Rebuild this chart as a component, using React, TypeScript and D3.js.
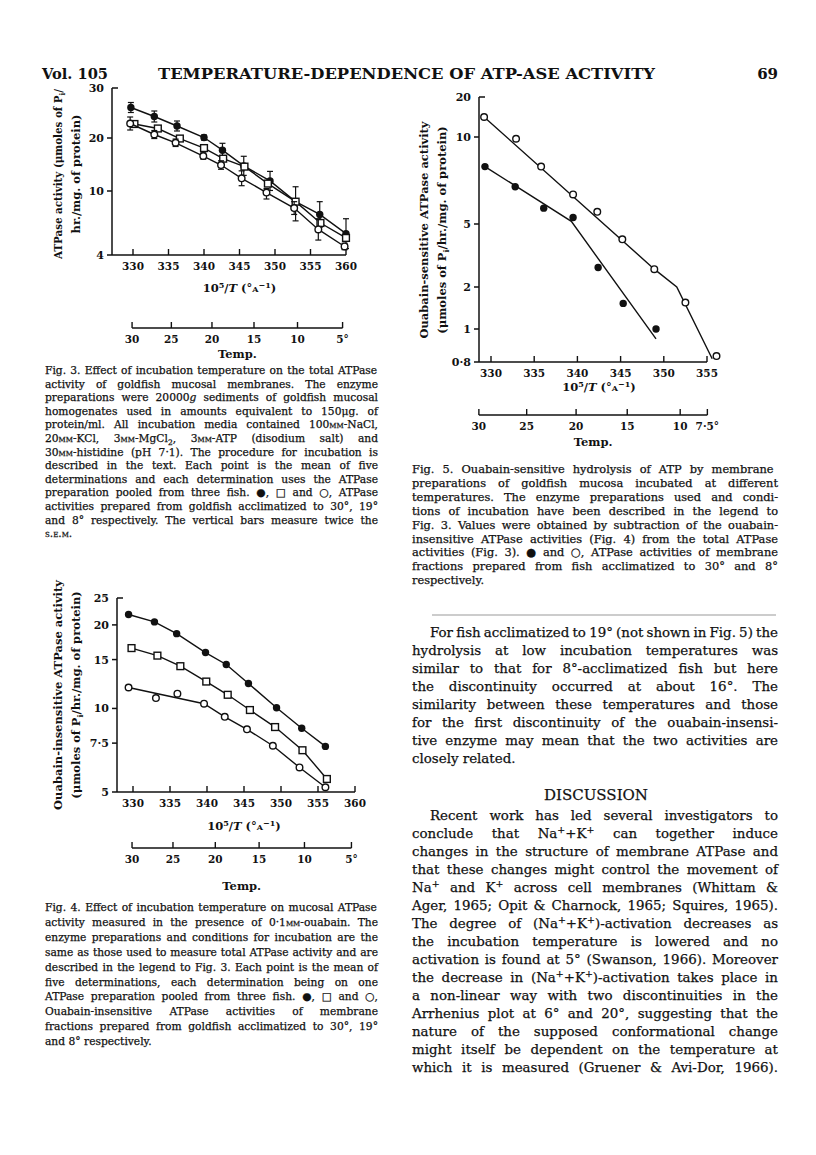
import React, { useLayoutEffect, useRef, useState } from "react";
import * as d3 from "d3";

// ---- Fig. 3: total ATPase activity vs 10^5/T ----
const fig3FilledX = [329.7, 333.0, 336.2, 340.0, 342.6, 345.6, 349.3, 352.9, 356.3, 360.0];
const fig3FilledY = [26.1, 24.3, 22.4, 20.1, 17.7, 14.75, 11.9, 9.0, 7.8, 6.0];
const fig3FilledErr = [1.0, 1.1, 1.0, 0.5, 1.3, 1.8, 1.8, 1.8, 1.2, 1.4];
const fig3SquareX = [330.2, 333.5, 336.6, 340.0, 342.7, 345.7, 349.0, 352.9, 356.4, 360.0];
const fig3SquareY = [22.8, 21.9, 19.9, 18.1, 16.1, 14.6, 11.4, 9.0, 7.0, 5.6];
const fig3OpenX = [329.6, 333.0, 336.0, 339.9, 342.4, 345.3, 348.8, 352.7, 356.1, 359.8];
const fig3OpenY = [22.9, 20.7, 19.1, 16.6, 14.9, 12.4, 9.85, 8.4, 6.4, 4.8];
const fig3OpenErr = [1.3, 0.8, 0.7, 0.6, 0.8, 1.4, 0.6, 0.6, 1.0, 0.3];
const fig3YTicks = [30, 20, 10, 4];

// ---- Fig. 4: ouabain-insensitive ATPase ----
const fig4FilledX = [329.4, 332.9, 335.9, 339.8, 342.6, 345.6, 349.4, 352.8, 356.0];
const fig4FilledY = [21.8, 20.5, 18.6, 15.9, 14.4, 12.3, 10.06, 8.48, 7.3];
const fig4SquareX = [329.8, 333.3, 336.4, 339.9, 342.8, 345.8, 349.2, 352.9, 356.2];
const fig4SquareY = [16.5, 15.5, 14.2, 12.5, 11.2, 9.87, 8.57, 7.07, 5.57];
const fig4OpenX = [329.4, 333.1, 336.0, 339.6, 342.4, 345.4, 348.9, 352.5, 356.0];
const fig4OpenY = [11.9, 10.9, 11.3, 10.4, 9.33, 8.41, 7.34, 6.13, 5.2];
const fig4OpenFitX = [329.4, 339.6, 342.4, 345.4, 348.9, 352.5, 356.0];
const fig4OpenFitY = [11.9, 10.4, 9.33, 8.41, 7.34, 6.13, 5.2];
const fig4YTicks = [25, 20, 15, 10, 7.5, 5];
const fig4YLabels = ["25", "20", "15", "10", "7·5", "5"];

// ---- Fig. 5: ouabain-sensitive ATPase ----
const fig5FilledX = [329.3, 332.8, 336.1, 339.5, 342.4, 345.3, 349.1];
const fig5FilledY = [8.3, 7.14, 5.91, 5.37, 2.93, 1.61, 1.0];
const fig5FilledFitX = [329.3, 339.3, 349.1];
const fig5FilledFitY = [8.3, 5.15, 0.94];
const fig5OpenX = [329.2, 332.9, 335.8, 339.5, 342.3, 345.2, 348.9, 352.5, 356.1];
const fig5OpenY = [15.0, 9.9, 8.3, 6.7, 5.7, 4.27, 2.85, 1.63, 0.836];
const fig5OpenFitX = [329.2, 348.9, 351.5, 355.6];
const fig5OpenFitY = [15.0, 2.85, 2.0, 0.82];
const fig5YTicks = [20, 10, 5, 2, 1, 0.8];
const fig5YLabels = ["20", "10", "5", "2", "1", "0·8"];

const xTicks3 = [330, 335, 340, 345, 350, 355, 360];
const xTicks5 = [330, 335, 340, 345, 350, 355];
const temps3 = [30, 25, 20, 15, 10, 5];
const tempLabels3 = ["30", "25", "20", "15", "10", "5°"];
const temps5 = [30, 25, 20, 15, 10, 7.5];
const tempLabels5 = ["30", "25", "20", "15", "10", "7·5°"];

const fig3Caption = [
  "Fig. 3.  Effect of incubation temperature on the total ATPase",
  "activity of goldfish mucosal membranes. The enzyme",
  "preparations were 20000*{g} sediments of goldfish mucosal",
  "homogenates used in amounts equivalent to 150μg. of",
  "protein/ml. All incubation media contained 100~{mm}-NaCl,",
  "20~{mm}-KCl, 3~{mm}-MgCl_{2}, 3~{mm}-ATP (disodium salt) and",
  "30~{mm}-histidine (pH 7·1). The procedure for incubation is",
  "described in the text. Each point is the mean of five",
  "determinations and each determination uses the ATPase",
  "preparation pooled from three fish. ●, □ and ○, ATPase",
  "activities prepared from goldfish acclimatized to 30°, 19°",
  "and 8° respectively. The vertical bars measure twice the",
  "~{s.e.m.}",
];
const fig4Caption = [
  "Fig. 4.  Effect of incubation temperature on mucosal ATPase",
  "activity measured in the presence of 0·1~{mm}-ouabain. The",
  "enzyme preparations and conditions for incubation are the",
  "same as those used to measure total ATPase activity and are",
  "described in the legend to Fig. 3. Each point is the mean of",
  "five determinations, each determination being on one",
  "ATPase preparation pooled from three fish. ●, □ and ○,",
  "Ouabain-insensitive ATPase activities of membrane",
  "fractions prepared from goldfish acclimatized to 30°, 19°",
  "and 8° respectively.",
];
const fig5Caption = [
  "Fig. 5.  Ouabain-sensitive hydrolysis of ATP by membrane",
  "preparations of goldfish mucosa incubated at different",
  "temperatures. The enzyme preparations used and condi-",
  "tions of incubation have been described in the legend to",
  "Fig. 3. Values were obtained by subtraction of the ouabain-",
  "insensitive ATPase activities (Fig. 4) from the total ATPase",
  "activities (Fig. 3). ● and ○, ATPase activities of membrane",
  "fractions prepared from fish acclimatized to 30° and 8°",
  "respectively.",
];
const bodyPara1 = [
  "For fish acclimatized to 19° (not shown in Fig. 5) the",
  "hydrolysis at low incubation temperatures was",
  "similar to that for 8°-acclimatized fish but here",
  "the discontinuity occurred at about 16°. The",
  "similarity between these temperatures and those",
  "for the first discontinuity of the ouabain-insensi-",
  "tive enzyme may mean that the two activities are",
  "closely related.",
];
const bodyPara2 = [
  "Recent work has led several investigators to",
  "conclude that Na^{+}+K^{+} can together induce",
  "changes in the structure of membrane ATPase and",
  "that these changes might control the movement of",
  "Na^{+} and K^{+} across cell membranes (Whittam &",
  "Ager, 1965; Opit & Charnock, 1965; Squires, 1965).",
  "The degree of (Na^{+}+K^{+})-activation decreases as",
  "the incubation temperature is lowered and no",
  "activation is found at 5° (Swanson, 1966). Moreover",
  "the decrease in (Na^{+}+K^{+})-activation takes place in",
  "a non-linear way with two discontinuities in the",
  "Arrhenius plot at 6° and 20°, suggesting that the",
  "nature of the supposed conformational change",
  "might itself be dependent on the temperature at",
  "which it is measured (Gruener & Avi-Dor, 1966).",
];

const serif = "'DejaVu Serif', 'Liberation Serif', serif";
const ink = "#111";

// small markup: _{sub} ^{sup} ~{smallcaps} *{italic}
function rich(src: string, size: number) {
  const out: any[] = [];
  const re = /([_^~*])\{([^}]*)\}/g;
  let last = 0;
  let shift = 0;
  let k = 0;
  let m: RegExpExecArray | null;
  while ((m = re.exec(src))) {
    if (m.index > last) {
      out.push(<tspan key={k++} dy={shift ? -shift : undefined}>{src.slice(last, m.index)}</tspan>);
      shift = 0;
    }
    const kind = m[1];
    if (kind === "_" || kind === "^") {
      const s = kind === "_" ? size * 0.28 : -size * 0.38;
      out.push(<tspan key={k++} dy={s - shift} fontSize={size * 0.7}>{m[2]}</tspan>);
      shift = s;
    } else if (kind === "~") {
      out.push(<tspan key={k++} dy={shift ? -shift : undefined} style={{ fontVariant: "small-caps" }}>{m[2]}</tspan>);
      shift = 0;
    } else {
      out.push(<tspan key={k++} dy={shift ? -shift : undefined} fontStyle="italic">{m[2]}</tspan>);
      shift = 0;
    }
    last = re.lastIndex;
  }
  if (last < src.length) out.push(<tspan key={k++} dy={shift ? -shift : undefined}>{src.slice(last)}</tspan>);
  return out;
}

// one line of justified text: spreads the words (word-spacing) to fill the width
function JustLine({ x, y, width, justify, size, src }: any) {
  const ref = useRef<SVGTextElement>(null);
  const [ws, setWs] = useState(0);
  const [fit, setFit] = useState(false);
  useLayoutEffect(() => {
    const el = ref.current;
    if (!justify || !el) return;
    el.style.wordSpacing = "0px";
    const len = el.getComputedTextLength();
    const spaces = ((el.textContent || "").match(/ /g) || []).length;
    const w = spaces ? (width - len) / spaces : 0;
    if (w < -size * 0.18) setFit(true);
    else setWs(w);
  }, [width, justify, src]);
  return (
    <text
      ref={ref}
      x={x}
      y={y}
      style={{ wordSpacing: `${ws}px` }}
      textLength={fit ? width : undefined}
      lengthAdjust="spacingAndGlyphs"
    >
      {rich(src, size)}
    </text>
  );
}

function Para({ lines, x, y, dy, width, size, ragged = [], indent = 0 }: any) {
  return (
    <g fontFamily={serif} fontSize={size} fill={ink} stroke={ink} strokeWidth={0.25}>
      {lines.map((ln: string, i: number) => {
        const ind = i === 0 ? indent : 0;
        return (
          <JustLine key={i} x={x + ind} y={y + i * dy} width={width - ind} justify={!ragged.includes(i)} size={size} src={ln} />
        );
      })}
    </g>
  );
}

function Marker({ kind, x, y }: any) {
  if (kind === "filled") return <circle cx={x} cy={y} r={3.7} fill={ink} />;
  if (kind === "open") return <circle cx={x} cy={y} r={3.3} fill="#fff" stroke={ink} strokeWidth={1.4} />;
  return <rect x={x - 3.4} y={y - 3.4} width={6.8} height={6.8} fill="#fff" stroke={ink} strokeWidth={1.4} />;
}

function LeftAxis({ x, scale, ticks, labels }: any) {
  const r = scale.range();
  const top = Math.min(...r);
  const bot = Math.max(...r);
  return (
    <g>
      <line x1={x} x2={x} y1={top} y2={bot} stroke={ink} strokeWidth={1.5} />
      {ticks.map((t: number, i: number) => {
        const yy = scale(t);
        const isTop = Math.abs(yy - top) < 0.5;
        return (
          <g key={i}>
            <line x1={isTop ? x : x - 5} x2={isTop ? x + 6 : x} y1={yy} y2={yy} stroke={ink} strokeWidth={1.5} />
            <text x={x - 8} y={yy + 4} textAnchor="end" fontFamily={serif} fontWeight="bold" fontSize={11} fill={ink}>
              {labels[i]}
            </text>
          </g>
        );
      })}
    </g>
  );
}

function BottomAxis({ x0, y, scale, ticks, titleY }: any) {
  const x1 = scale(ticks[ticks.length - 1]);
  const mid = (scale(ticks[0]) + x1) / 2;
  return (
    <g>
      <line x1={x0} x2={x1} y1={y} y2={y} stroke={ink} strokeWidth={1.5} />
      {ticks.map((t: number) => (
        <g key={t}>
          <line x1={scale(t)} x2={scale(t)} y1={y} y2={y - 6} stroke={ink} strokeWidth={1.4} />
          <text x={scale(t)} y={y + 15} textAnchor="middle" fontFamily={serif} fontWeight="bold" fontSize={10.5} fill={ink}>
            {t}
          </text>
        </g>
      ))}
      <text x={mid} y={titleY} textAnchor="middle" fontFamily={serif} fontWeight="bold" fontSize={11.5} fill={ink}>
        {rich("10^{5}/*{T} (°~{a}^{−1})", 11.5)}
      </text>
    </g>
  );
}

function TempAxis({ scale, temps, labels, y, offset, titleY }: any) {
  const pos = (t: number) => scale(1e5 / (t + 273.15)) + offset;
  const a = pos(temps[0]);
  const b = pos(temps[temps.length - 1]);
  return (
    <g>
      <line x1={a} x2={b} y1={y} y2={y} stroke={ink} strokeWidth={1.5} />
      {temps.map((t: number, i: number) => (
        <g key={t}>
          <line x1={pos(t)} x2={pos(t)} y1={y} y2={y - 6} stroke={ink} strokeWidth={1.4} />
          <text x={pos(t)} y={y + 15} textAnchor="middle" fontFamily={serif} fontWeight="bold" fontSize={10.5} fill={ink}>
            {labels[i]}
          </text>
        </g>
      ))}
      <text x={(a + b) / 2} y={titleY} textAnchor="middle" fontFamily={serif} fontWeight="bold" fontSize={11.5} fill={ink}>
        Temp.
      </text>
    </g>
  );
}

function YLabel({ x1, x2, cy, l1, l2, len1 }: any) {
  return (
    <g fontFamily={serif} fontWeight="bold" fontSize={11.5} fill={ink} textAnchor="middle">
      <text transform={`translate(${x1},${cy}) rotate(-90)`} textLength={len1} lengthAdjust="spacingAndGlyphs">
        {rich(l1, 11.5)}
      </text>
      <text transform={`translate(${x2},${cy}) rotate(-90)`}>{rich(l2, 11.5)}</text>
    </g>
  );
}

function Series({ xs, ys, x, y, kind, fitX, fitY, err }: any) {
  const line = d3.line<number>().x((_, i) => x((fitX || xs)[i])).y((v) => y(v));
  return (
    <g>
      <path d={line(fitY || ys) || ""} fill="none" stroke={ink} strokeWidth={1.4} />
      {err &&
        xs.map((xv: number, i: number) => {
          const cx = x(xv);
          const t = y(ys[i] + err[i]);
          const b = y(ys[i] - err[i]);
          return (
            <g key={i} stroke={ink} strokeWidth={1.2}>
              <line x1={cx} x2={cx} y1={t} y2={b} />
              <line x1={cx - 3} x2={cx + 3} y1={t} y2={t} />
              <line x1={cx - 3} x2={cx + 3} y1={b} y2={b} />
            </g>
          );
        })}
      {xs.map((xv: number, i: number) => (
        <Marker key={i} kind={kind} x={x(xv)} y={y(ys[i])} />
      ))}
    </g>
  );
}

function Fig3() {
  const x = d3.scaleLinear().domain([330, 360]).range([133, 346]);
  const y = d3.scaleLinear().domain([4, 10, 20, 30]).range([255, 191, 138, 88]);
  return (
    <g>
      <YLabel x1={62} x2={80} cy={174} len1={170} l1="ATPase activity (μmoles of P_{i}/" l2="hr./mg. of protein)" />
      <LeftAxis x={112} scale={y} ticks={fig3YTicks} labels={fig3YTicks.map(String)} />
      <BottomAxis x0={112} y={255} scale={x} ticks={xTicks3} titleY={292} />
      <TempAxis scale={x} temps={temps3} labels={tempLabels3} y={328} offset={0} titleY={358} />
      <Series xs={fig3FilledX} ys={fig3FilledY} err={fig3FilledErr} x={x} y={y} kind="filled" />
      <Series xs={fig3SquareX} ys={fig3SquareY} x={x} y={y} kind="square" />
      <Series xs={fig3OpenX} ys={fig3OpenY} err={fig3OpenErr} x={x} y={y} kind="open" />
    </g>
  );
}

function Fig4() {
  const x = d3.scaleLinear().domain([330, 360]).range([133, 355]);
  const y = d3.scaleLog().domain([5, 25]).range([792, 598]);
  return (
    <g>
      <YLabel x1={62} x2={80} cy={695} l1="Ouabain-insensitive ATPase activity" l2="(μmoles of P_{i}/hr./mg. of protein)" />
      <LeftAxis x={117} scale={y} ticks={fig4YTicks} labels={fig4YLabels} />
      <BottomAxis x0={117} y={792} scale={x} ticks={xTicks3} titleY={830} />
      <TempAxis scale={x} temps={temps3} labels={tempLabels3} y={848} offset={0} titleY={890} />
      <Series xs={fig4FilledX} ys={fig4FilledY} x={x} y={y} kind="filled" />
      <Series xs={fig4SquareX} ys={fig4SquareY} x={x} y={y} kind="square" />
      <Series xs={fig4OpenX} ys={fig4OpenY} fitX={fig4OpenFitX} fitY={fig4OpenFitY} x={x} y={y} kind="open" />
    </g>
  );
}

function Fig5() {
  const x = d3.scaleLinear().domain([330, 355]).range([491, 707]);
  const y = d3.scaleLinear().domain([0.8, 1, 2, 5, 10, 20]).range([362, 329, 287, 224, 137, 97]);
  return (
    <g>
      <YLabel x1={428} x2={446} cy={230} l1="Ouabain-sensitive ATPase activity" l2="(μmoles of P_{i}/hr./mg. of protein)" />
      <LeftAxis x={479} scale={y} ticks={fig5YTicks} labels={fig5YLabels} />
      <BottomAxis x0={479} y={362} scale={x} ticks={xTicks5} titleY={391} />
      <TempAxis scale={x} temps={temps5} labels={tempLabels5} y={415} offset={-11} titleY={446} />
      <Series xs={fig5FilledX} ys={fig5FilledY} fitX={fig5FilledFitX} fitY={fig5FilledFitY} x={x} y={y} kind="filled" />
      <Series xs={fig5OpenX} ys={fig5OpenY} fitX={fig5OpenFitX} fitY={fig5OpenFitY} x={x} y={y} kind="open" />
    </g>
  );
}

export default function App() {
  return (
    <svg width={816} height={1155} style={{ position: "absolute", left: 0, top: 0, background: "#fff" }}>
      <rect width={816} height={1155} fill="#fff" />
      <g fontFamily={serif} fontWeight="bold" fill={ink} fontSize={15}>
        <text x={42} y={79} textLength={66} lengthAdjust="spacingAndGlyphs">Vol. 105</text>
        <text x={158} y={79} textLength={497} lengthAdjust="spacingAndGlyphs">
          TEMPERATURE-DEPENDENCE OF ATP-ASE ACTIVITY
        </text>
        <text x={778} y={79} textAnchor="end">69</text>
      </g>
      <Fig3 />
      <Fig4 />
      <Fig5 />
      <Para lines={fig3Caption} x={45} y={374} dy={13.6} width={333} size={10.7} ragged={[12]} />
      <Para lines={fig4Caption} x={45} y={911} dy={14.9} width={333} size={10.7} ragged={[9]} />
      <Para lines={fig5Caption} x={412} y={473} dy={13.9} width={366} size={11.4} ragged={[8]} />
      <line x1={432} x2={776} y1={615} y2={615} stroke="#999" strokeWidth={1} />
      <Para lines={bodyPara1} x={412} y={637} dy={18} width={366} size={13.4} ragged={[7]} indent={18} />
      <text x={596} y={800} textAnchor="middle" fontFamily={serif} fontSize={15} fill={ink} stroke={ink} strokeWidth={0.25}>
        DISCUSSION
      </text>
      <Para lines={bodyPara2} x={412} y={820} dy={18} width={366} size={13.4} indent={18} />
    </svg>
  );
}
